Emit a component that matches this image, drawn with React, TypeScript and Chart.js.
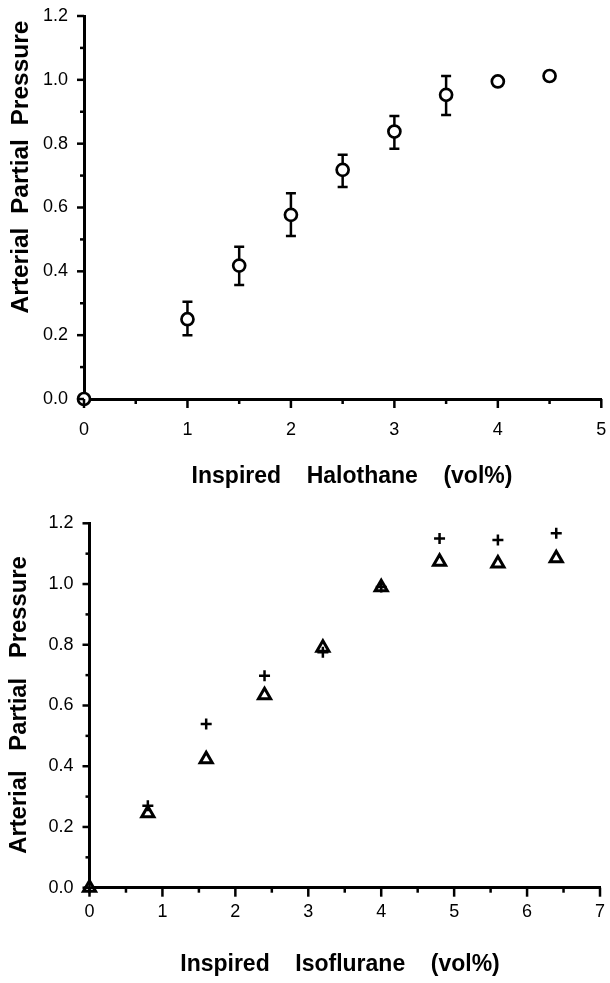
import React, { useEffect, useRef } from 'react';
import { Chart, registerables } from 'chart.js';

Chart.register(...registerables);

// ---------- data: top panel (halothane) ----------
const haloDose = [0, 1, 1.5, 2, 2.5, 3, 3.5, 4, 4.5];
const haloPressure = [0, 0.25, 0.418, 0.577, 0.718, 0.838, 0.953, 0.995, 1.012];
const haloErrHigh = [null, 0.305, 0.477, 0.645, 0.765, 0.887, 1.012, null, null];
const haloErrLow = [null, 0.2, 0.357, 0.511, 0.664, 0.784, 0.89, null, null];

// ---------- data: bottom panel (isoflurane) ----------
const isoDose = [0, 0.8, 1.6, 2.4, 3.2, 4.0, 4.8, 5.6, 6.4];
const isoTriangle = [0, 0.245, 0.423, 0.634, 0.79, 0.989, 1.073, 1.068, 1.085];
const isoPlus = [0, 0.27, 0.539, 0.698, 0.775, 0.99, 1.15, 1.145, 1.167];

// ---------- axis labels ----------
const yTitleTop = 'Arterial  Partial  Pressure';
const xTitleTop = 'Inspired    Halothane    (vol%)';
const yTitleBottom = 'Arterial   Partial   Pressure';
const xTitleBottom = 'Inspired    Isoflurane    (vol%)';

const FONT = "'Liberation Sans', Arial, Helvetica, sans-serif";

type Decor = {
  yTitle: string;
  xTitle: string;
  yTitleSize: number;
  yTitleX: number;
  yTitleY: number;
  xTitleX: number;
  xTitleY: number;
  errX?: number[];
  errLow?: (number | null)[];
  errHigh?: (number | null)[];
};

function decorPlugin(d: Decor) {
  return {
    id: 'decor',
    beforeDatasetsDraw(chart: any) {
      if (!d.errX) return;
      const { ctx, scales } = chart;
      const xs = scales.x;
      const ys = scales.y;
      ctx.save();
      ctx.strokeStyle = '#000';
      ctx.lineWidth = 2.5;
      d.errX.forEach((xv, i) => {
        const lo = d.errLow![i];
        const hi = d.errHigh![i];
        if (lo == null || hi == null) return;
        const px = xs.getPixelForValue(xv);
        const pLo = ys.getPixelForValue(lo);
        const pHi = ys.getPixelForValue(hi);
        ctx.beginPath();
        ctx.moveTo(px, pLo);
        ctx.lineTo(px, pHi);
        ctx.moveTo(px - 5, pLo);
        ctx.lineTo(px + 5, pLo);
        ctx.moveTo(px - 5, pHi);
        ctx.lineTo(px + 5, pHi);
        ctx.stroke();
      });
      ctx.restore();
    },
    afterDraw(chart: any) {
      const { ctx, chartArea, scales } = chart;
      const xs = scales.x;
      const ys = scales.y;
      ctx.save();
      ctx.strokeStyle = '#000';
      ctx.lineWidth = 2.5;
      xs.ticks.forEach((t: any) => {
        const px = xs.getPixelForValue(t.value);
        const major = Math.round(t.value * 2) % 2 === 0;
        const len = major ? 9 : 5;
        ctx.beginPath();
        ctx.moveTo(px, chartArea.bottom);
        ctx.lineTo(px, chartArea.bottom + len);
        ctx.stroke();
      });
      ys.ticks.forEach((t: any) => {
        const py = ys.getPixelForValue(t.value);
        const major = Math.round(t.value * 10) % 2 === 0;
        const len = major ? 7 : 4;
        ctx.beginPath();
        ctx.moveTo(chartArea.left, py);
        ctx.lineTo(chartArea.left - len, py);
        ctx.stroke();
      });
      ctx.fillStyle = '#000';
      ctx.font = `bold 23px ${FONT}`;
      ctx.textAlign = 'center';
      ctx.textBaseline = 'alphabetic';
      ctx.fillText(d.xTitle, d.xTitleX, d.xTitleY);
      ctx.font = `bold ${d.yTitleSize}px ${FONT}`;
      ctx.translate(d.yTitleX, d.yTitleY);
      ctx.rotate(-Math.PI / 2);
      ctx.fillText(d.yTitle, 0, 0);
      ctx.restore();
    },
  };
}

function makeConfig(opts: {
  datasets: any[];
  xMax: number;
  padding: any;
  yWidth: number;
  xHeight: number;
  xLabelPad: number;
  decor: Decor;
}): any {
  return {
    type: 'scatter',
    data: { datasets: opts.datasets },
    options: {
      animation: false,
      responsive: false,
      maintainAspectRatio: false,
      events: [],
      layout: { padding: opts.padding },
      plugins: { legend: { display: false }, tooltip: { enabled: false } },
      scales: {
        x: {
          type: 'linear',
          min: 0,
          max: opts.xMax,
          afterFit: (s: any) => {
            s.height = opts.xHeight;
            s.paddingLeft = 0;
            s.paddingRight = 0;
          },
          ticks: {
            stepSize: 0.5,
            padding: opts.xLabelPad,
            color: '#000',
            font: { family: FONT, size: 18 },
            maxRotation: 0,
            autoSkip: false,
            callback: (v: number) => (Math.round(v * 2) % 2 === 0 ? String(Math.round(v)) : ''),
          },
          grid: { display: true, drawOnChartArea: false, drawTicks: false, color: '#000', lineWidth: 1 },
          border: { display: true, color: '#000', width: 3 },
        },
        y: {
          type: 'linear',
          min: 0,
          max: 1.2,
          afterFit: (s: any) => {
            s.width = opts.yWidth;
            s.paddingTop = 0;
            s.paddingBottom = 0;
          },
          ticks: {
            stepSize: 0.1,
            padding: 16,
            color: '#000',
            font: { family: FONT, size: 18 },
            autoSkip: false,
            callback: (v: number) => (Math.round(v * 10) % 2 === 0 ? (Math.round(v * 10) / 10).toFixed(1) : ''),
          },
          grid: { display: true, drawOnChartArea: false, drawTicks: false, color: '#000', lineWidth: 1 },
          border: { display: true, color: '#000', width: 3 },
        },
      },
    },
    plugins: [decorPlugin(opts.decor)],
  };
}

function ChartCanvas({ config, width, height, top }: { config: () => any; width: number; height: number; top: number }) {
  const ref = useRef<HTMLCanvasElement | null>(null);
  useEffect(() => {
    if (!ref.current) return;
    const chart = new Chart(ref.current, config());
    return () => chart.destroy();
  }, []);
  return (
    <canvas
      ref={ref}
      width={width}
      height={height}
      style={{ position: 'absolute', left: 0, top, width, height, display: 'block' }}
    />
  );
}

export default function App() {
  const topConfig = () =>
    makeConfig({
      datasets: [
        {
          label: 'Halothane',
          data: haloDose.map((x, i) => ({ x, y: haloPressure[i] })),
          pointStyle: 'circle',
          pointRadius: 6,
          pointBorderWidth: 2.7,
          pointBorderColor: '#000',
          pointBackgroundColor: '#fff',
          showLine: false,
          clip: false,
        },
      ],
      xMax: 5,
      padding: { left: 0, top: 16, right: 2, bottom: 0 },
      yWidth: 84,
      xHeight: 91,
      xLabelPad: 20,
      decor: {
        yTitle: yTitleTop,
        xTitle: xTitleTop,
        yTitleSize: 24.5,
        yTitleX: 28,
        yTitleY: 167,
        xTitleX: 352,
        xTitleY: 483,
        errX: haloDose,
        errLow: haloErrLow,
        errHigh: haloErrHigh,
      },
    });

  const bottomConfig = () =>
    makeConfig({
      datasets: [
        {
          label: 'Isoflurane (+)',
          data: isoDose.map((x, i) => ({ x, y: isoPlus[i] })),
          pointStyle: 'cross',
          pointRadius: 5.5,
          pointBorderWidth: 2.5,
          pointBorderColor: '#000',
          showLine: false,
          clip: false,
        },
        {
          label: 'Isoflurane (triangle)',
          data: isoDose.map((x, i) => ({ x, y: isoTriangle[i] })),
          pointStyle: 'triangle',
          pointRadius: 7,
          pointBorderWidth: 3,
          pointBorderColor: '#000',
          pointBackgroundColor: '#fff',
          showLine: false,
          clip: false,
        },
      ],
      xMax: 7,
      padding: { left: 0, top: 33.3, right: 6, bottom: 0 },
      yWidth: 89.5,
      xHeight: 95.3,
      xLabelPad: 14,
      decor: {
        yTitle: yTitleBottom,
        xTitle: xTitleBottom,
        yTitleSize: 23.8,
        yTitleX: 26,
        yTitleY: 215,
        xTitleX: 340,
        xTitleY: 481,
      },
    });

  return (
    <div style={{ position: 'absolute', left: 0, top: 0, width: 610, height: 983, background: '#fff' }}>
      <ChartCanvas config={topConfig} width={610} height={490} top={0} />
      <ChartCanvas config={bottomConfig} width={610} height={493} top={490} />
    </div>
  );
}
